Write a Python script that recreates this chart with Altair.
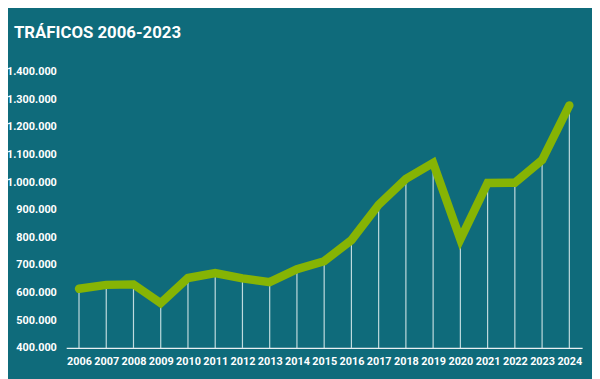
import altair as alt
import pandas as pd

years = [str(y) for y in range(2006, 2025)]
traffic = [614000, 628000, 630000, 562000, 653000, 671000, 652000, 638000, 685000,
           714000, 790000, 918000, 1012000, 1070000, 793000, 997000, 998000, 1080000, 1278000]
y_ticks = [400000, 500000, 600000, 700000, 800000, 900000, 1000000, 1100000,
           1200000, 1300000, 1400000]

df = pd.DataFrame({"year": years, "value": traffic, "base": [400000] * len(years)})

BG = "#0f6b7b"
GREEN = "#86b404"
FONT = "Roboto"

x = alt.X("year:O", scale=alt.Scale(type="point", padding=0.47),
          axis=alt.Axis(title=None, labelAngle=0, domainColor="#e8f0f2", domainWidth=1.5,
                        ticks=False, labelPadding=8, labelColor="white", labelFont=FONT,
                        labelFontSize=11, labelFontWeight="bold", grid=False))
y = alt.Y("value:Q", scale=alt.Scale(domain=[400000, 1400000], nice=False, zero=False),
          axis=alt.Axis(title=None, values=y_ticks, domain=False, ticks=False, grid=False,
                        labelPadding=10, labelColor="white", labelFont=FONT,
                        labelFontSize=11, labelFontWeight="bold",
                        labelExpr="replace(replace(format(datum.value, ','), ',', '.'), ',', '.')"))

base = alt.Chart(df)
rules = base.mark_rule(color="#dfeef0", strokeWidth=1.2, opacity=0.85).encode(
    x=x, y=y, y2="base:Q")
line = base.mark_line(color=GREEN, strokeWidth=8.5, strokeCap="round", strokeJoin="miter").encode(
    x=x, y=y)

chart = (rules + line).properties(
    width=523, height=280,
    background=BG,
    padding={"left": 59, "top": 62, "right": 10, "bottom": 29},
    autosize=alt.AutoSizeParams(type="none"),
    title=alt.TitleParams("TRÁFICOS 2006-2023", anchor="start", frame="group", dx=-53,
                          offset=24, color="white", font=FONT, fontSize=17,
                          fontWeight="bold"),
).configure_view(stroke=None)

chart.save("out.html", embed_options={"renderer": "svg", "actions": False})
